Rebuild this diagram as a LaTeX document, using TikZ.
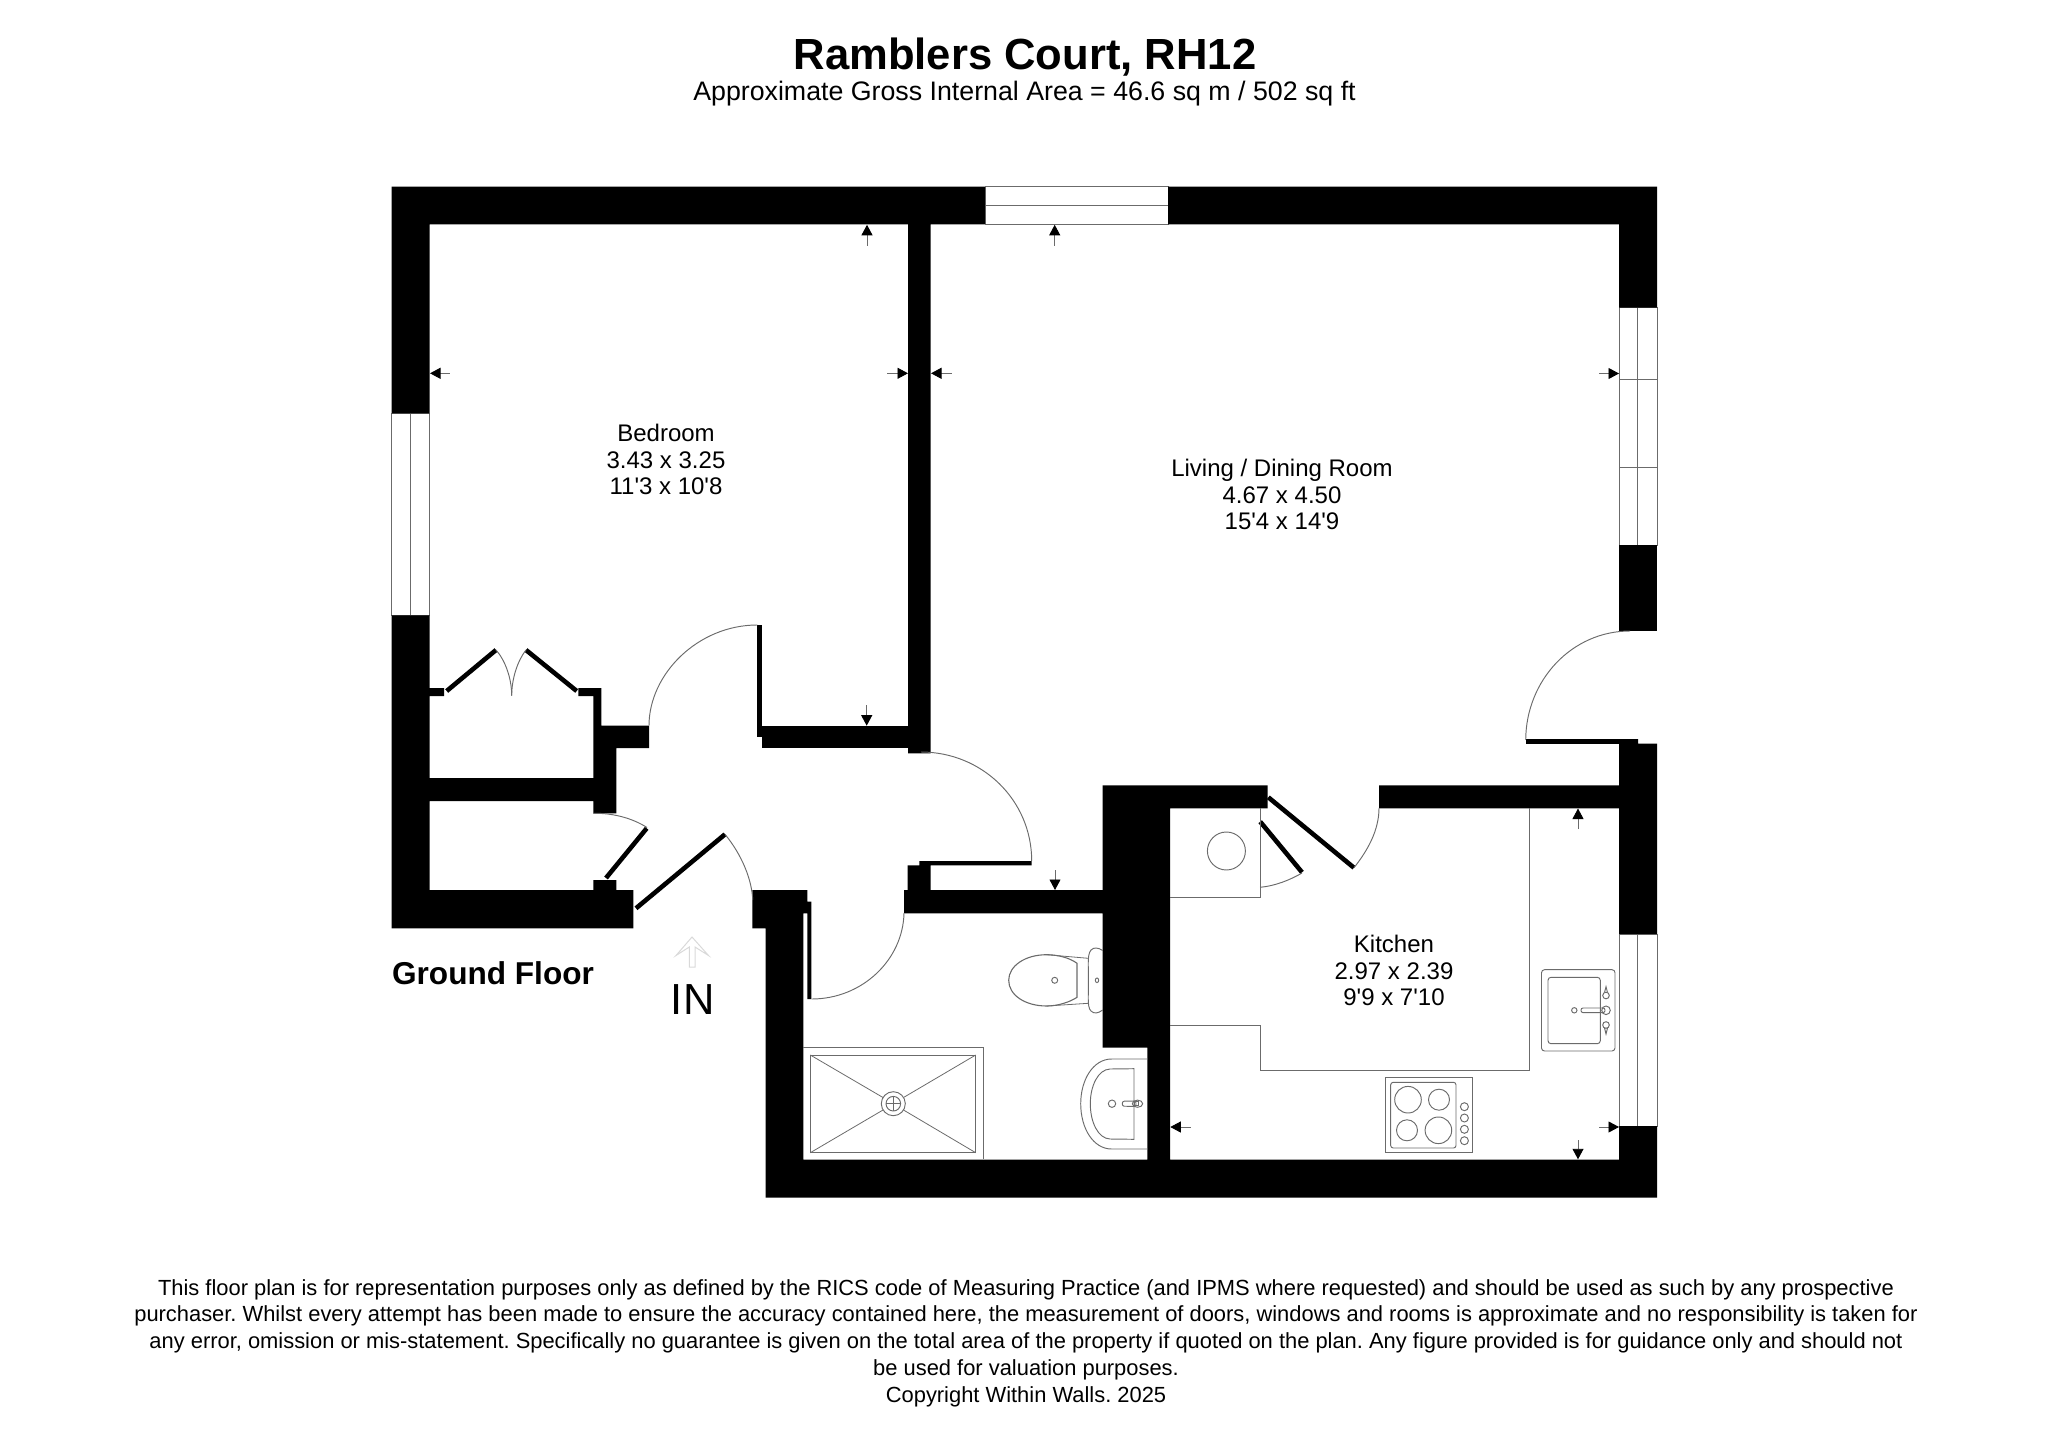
\documentclass[tikz,border=0pt]{standalone}
\usepackage{fontspec}
\setmainfont{Liberation Sans}[Ligatures=TeXOff]
\usetikzlibrary{arrows.meta}
\newcommand{\fsz}[2]{\fontsize{#1}{#2}\selectfont}
\definecolor{linegray}{gray}{0.42}
\tikzset{
  wall/.style={fill=black,draw=none},
  thinline/.style={draw=linegray,line width=0.95pt},
  faint/.style={draw=linegray,line width=0.8pt},
  leaf/.style={draw=black,line width=4.6pt},
  dimarrow/.style={draw=linegray,line width=0.9pt,-{Triangle[length=10.5pt,width=11pt,color=black]}},
  label/.style={inner sep=0pt,outer sep=0pt,align=center,text=black},
  roomlabel/.style={label,font=\fsz{24}{26.8}\frenchspacing},
  footer/.style={label,font=\fsz{21.9}{24}\frenchspacing}
}
\begin{document}
\begin{tikzpicture}[x=1pt,y=-1pt]
\useasboundingbox (0,0) rectangle (2048,1447);
% titles
\node[label,font=\fsz{43.6}{44}\bfseries] (title) at (1025,57) {Ramblers Court, RH12};
\node[label,font=\fsz{26.75}{30}] (subtitle) at (1024.5,94) {Approximate Gross Internal Area = 46.6 sq m / 502 sq ft};
% window frames
\draw[thinline] (391.5,413.3) rectangle (429.7,615.3) (410.3,413.3) -- (410.3,615.3);
\draw[thinline] (985,186.7) rectangle (1168,224.3) (985,205.7) -- (1168,205.7);
\draw[thinline] (1619,307.6) rectangle (1657,545.4) (1637.7,307.6) -- (1637.7,545.4);
\draw[faint] (1619,379.6) -- (1657,379.6) (1619,467.6) -- (1657,467.6);
\draw[thinline] (1619,934) rectangle (1657,1126) (1637.8,934) -- (1637.8,1126);
% walls
\fill[wall] (391.5,186.7) -- (985,186.7) -- (985,224.3) -- (930.7,224.3) -- (930.7,753.4) -- (908,753.4) -- (908,224.3) -- (429.7,224.3) -- (429.7,413.3) -- (391.5,413.3) -- cycle;
\fill[wall] (761.7,725.5) rectangle (908,748.2);
\fill[wall] (757.3,625) rectangle (761.7,736.7);
\fill[wall] (391.5,615.3) -- (429.7,615.3) -- (429.7,688) -- (444,688) -- (444,696) -- (429.7,696) -- (429.7,778) -- (593.3,778) -- (593.3,696) -- (578.3,696) -- (578.3,688) -- (601.3,688) -- (601.3,725.5) -- (649,725.5) -- (649,748.2) -- (616.3,748.2) -- (616.3,813.3) -- (593.3,813.3) -- (593.3,801) -- (429.7,801) -- (429.7,890) -- (593.3,890) -- (593.3,880) -- (616.3,880) -- (616.3,890) -- (633.3,890) -- (633.3,928.3) -- (391.5,928.3) -- cycle;
\fill[wall] (752.3,890) -- (807.3,890) -- (807.3,901.7) -- (811.3,901.7) -- (811.3,999) -- (807.3,999) -- (807.3,913.3) -- (803.3,913.3) -- (803.3,1159.5) -- (1147.3,1159.5) -- (1147.3,1047.7) -- (1102.7,1047.7) -- (1102.7,913.3) -- (904,913.3) -- (904,890) -- (907.7,890) -- (907.7,865.3) -- (919.3,865.3) -- (919.3,861) -- (1031.7,861) -- (1031.7,865.3) -- (930.7,865.3) -- (930.7,890) -- (1102.7,890) -- (1102.7,785.3) -- (1267.6,785.3) -- (1267.6,808.3) -- (1170,808.3) -- (1170,1159.5) -- (1619,1159.5) -- (1619,1126) -- (1657,1126) -- (1657,1197.7) -- (765.7,1197.7) -- (765.7,928.3) -- (752.3,928.3) -- cycle;
\fill[wall] (1379,785.3) -- (1619,785.3) -- (1619,739) -- (1638,739) -- (1638,743.7) -- (1657,743.7) -- (1657,934) -- (1619,934) -- (1619,808.3) -- (1379,808.3) -- cycle;
\fill[wall] (1525.7,739) rectangle (1638,743.7);
\fill[wall] (1168,186.7) -- (1657,186.7) -- (1657,307.6) -- (1619,307.6) -- (1619,224.3) -- (1168,224.3) -- cycle;
\fill[wall] (1619,545.4) rectangle (1657,631.3);
% door leaves
\draw[leaf] (446.7,691) -- (496,650);
\draw[leaf] (576.7,691) -- (526,650);
\draw[leaf] (606,878) -- (646.7,828.3);
\draw[leaf] (636,908.3) -- (725,834.3);
\draw[leaf] (1268.3,797.3) -- (1353.9,867.7);
\draw[leaf] (1260.2,821.7) -- (1302,872.3);
% door swings
\draw[thinline] (757.3,625) .. controls (698,625) and (649,674) .. (649,725.7);
\draw[thinline] (496,650) .. controls (505,660) and (511.7,678) .. (511.7,695.7);
\draw[thinline] (526,650) .. controls (518,660) and (511.7,678) .. (511.7,695.7);
\draw[thinline] (593.3,813.3) .. controls (613,813) and (632,818) .. (647,827.5);
\draw[thinline] (725,834.3) .. controls (742,855) and (752,880) .. (752.7,900);
\draw[thinline] (921,752) .. controls (982,752) and (1031.7,800) .. (1031.7,861);
\draw[thinline] (904,913) .. controls (903,960) and (862,999) .. (811.7,999);
\draw[thinline] (1630,631) .. controls (1572,631) and (1526,680) .. (1525.7,740);
\draw[thinline] (1354,867.7) .. controls (1368,850) and (1379,830) .. (1379,808);
\draw[thinline] (1302,873) .. controls (1290,880) and (1275,886) .. (1260,887.3);
% kitchen units
\draw[thinline] (1170,897.7) -- (1260,897.7) -- (1260,808.3);
\draw[thinline] (1226.4,851) circle[radius=19];
\draw[thinline] (1170,1025.3) -- (1260,1025.3) -- (1260,1070) -- (1529.3,1070) -- (1529.3,808.3);
% hob
\draw[thinline] (1385.6,1077.3) rectangle (1472.5,1152.7);
\draw[thinline,rounded corners=2.5pt] (1390.7,1082.3) rectangle (1456,1148);
\draw[thinline] (1408,1099.7) circle[radius=13.3] (1439,1099.7) circle[radius=10.5] (1407,1130.3) circle[radius=10.5] (1438.4,1130.3) circle[radius=13.3];
\draw[thinline] (1464.4,1106.7) circle[radius=4] (1464.4,1118) circle[radius=4] (1464.4,1129.3) circle[radius=4] (1464.4,1140.7) circle[radius=4];
% kitchen sink
\draw[thinline,rounded corners=3pt] (1541.5,969.7) rectangle (1615,1051);
\draw[thinline,rounded corners=3pt] (1548,977.3) rectangle (1600.3,1043.7);
\draw[thinline] (1574.3,1010.3) circle[radius=2.7];
\draw[thinline,rounded corners=2pt] (1581,1008) -- (1605,1008) -- (1605,1012.6) -- (1581,1012.6) -- cycle;
\draw[thinline] (1606,1010.3) circle[radius=4.3];
\draw[thinline] (1606,995.5) circle[radius=3.3] (1606,1025) circle[radius=3.3];
\draw[thinline] (1604.5,992.5) -- (1606,986.7) -- (1607.5,992.5) (1604.5,1028) -- (1606,1034) -- (1607.5,1028);
% toilet
\draw[thinline,line width=1.1pt] (1077,963.3) .. controls (1070,958) and (1058,954.7) .. (1046.7,954.7) .. controls (1025,954.7) and (1008.7,966) .. (1008.7,980.3) .. controls (1008.7,995) and (1025,1006) .. (1046.7,1006) .. controls (1058,1006) and (1070,1002) .. (1077,997.3) -- cycle;
\draw[faint] (1046.7,954.7) -- (1088.3,958.3) (1046.7,1006) -- (1088.3,1003.3);
\draw[thinline] (1102.7,950.5) .. controls (1098,947.5) and (1094,947) .. (1091,950) .. controls (1086.5,955) and (1089,970) .. (1088.3,980.3) .. controls (1089,992) and (1086.5,1007) .. (1091,1011) .. controls (1094,1014) and (1098,1013.5) .. (1102.7,1010);
\draw[thinline] (1097,980.3) circle[x radius=1.7,y radius=2.3];
\draw[thinline] (1054.7,980.3) circle[radius=3];
% shower
\draw[thinline] (803.3,1047.3) -- (983.3,1047.3) -- (983.3,1159.3);
\draw[thinline] (810.3,1055) rectangle (975.7,1152.7);
\draw[thinline] (893.3,1103.7) circle[radius=12] (893.3,1103.7) circle[radius=7.3];
\draw[thinline] (886,1103.7) -- (900.6,1103.7) (893.3,1096.4) -- (893.3,1111);
\draw[faint] (810.3,1055) -- (883,1097.5) (975.7,1055) -- (903.5,1097.5) (810.3,1152.7) -- (883,1110) (975.7,1152.7) -- (903.5,1110);
% basin
\draw[thinline] (1147.3,1059) -- (1111.7,1059) .. controls (1093,1059) and (1080.7,1080) .. (1080.7,1103.7) .. controls (1080.7,1128) and (1093,1149) .. (1111.7,1149) -- (1147.3,1149);
\draw[thinline] (1134,1068.7) -- (1110,1069) .. controls (1098,1069.5) and (1090.3,1086) .. (1090.3,1103.7) .. controls (1090.3,1122) and (1098,1138.5) .. (1110,1139) -- (1134,1139.3) -- cycle;
\draw[thinline] (1112,1103.7) circle[radius=3.7];
\draw[thinline,rounded corners=2pt] (1122.3,1101.2) -- (1136,1101) -- (1136,1106.4) -- (1122.3,1106.2) -- cycle;
\draw[thinline] (1137.5,1103.7) circle[x radius=5.2,y radius=3.6];
\draw[thinline] (1134,1101.7) rectangle (1138,1105.7);
% dimension arrows
\draw[dimarrow] (867,245.7) -- (867,224.8);
\draw[dimarrow] (1054.7,245.7) -- (1054.7,224.8);
\draw[dimarrow] (449.6,373.3) -- (430,373.3);
\draw[dimarrow] (887,373.3) -- (908,373.3);
\draw[dimarrow] (951.6,373.3) -- (931,373.3);
\draw[dimarrow] (1599,373.5) -- (1619,373.5);
\draw[dimarrow] (866.7,705) -- (866.7,725.7);
\draw[dimarrow] (1055,870) -- (1055,890);
\draw[dimarrow] (1578,829) -- (1578,808.5);
\draw[dimarrow] (1578,1140) -- (1578,1159.3);
\draw[dimarrow] (1599,1127) -- (1619,1127);
\draw[dimarrow] (1190.6,1127) -- (1170.3,1127);
% IN arrow
\draw[draw=black!15,line width=1pt] (689.3,967) -- (689.3,947) -- (676,955.5) -- (692,937) -- (708.5,955.5) -- (695,947) -- (695,967) -- cycle;
% labels
\node[label,font=\fsz{31.6}{33}\bfseries] (ground) at (493,973) {Ground Floor};
\node[label,font=\fsz{43.5}{45}] (in) at (692.7,999.5) {IN};
\node[roomlabel] (bedroom) at (666,459.5) {Bedroom\\3.43 x 3.25\\11'3 x 10'8};
\node[roomlabel] (living) at (1282,494.5) {Living / Dining Room\\4.67 x 4.50\\15'4 x 14'9};
\node[roomlabel] (kitchen) at (1394,970.5) {Kitchen\\2.97 x 2.39\\9'9 x 7'10};
% footer
\node[footer] (f1) at (1026,1289.6) {This floor plan is for representation purposes only as defined by the RICS code of Measuring Practice (and IPMS where requested) and should be used as such by any prospective};
\node[footer] (f2) at (1026,1316.1) {purchaser. Whilst every attempt has been made to ensure the accuracy contained here, the measurement of doors, windows and rooms is approximate and no responsibility is taken for};
\node[footer] (f3) at (1026,1343.1) {any error, omission or mis-statement. Specifically no guarantee is given on the total area of the property if quoted on the plan. Any figure provided is for guidance only and should not};
\node[footer] (f4) at (1026,1370.1) {be used for valuation purposes.};
\node[footer] (f5) at (1026,1396.6) {Copyright Within Walls. 2025};
\end{tikzpicture}
\end{document}
